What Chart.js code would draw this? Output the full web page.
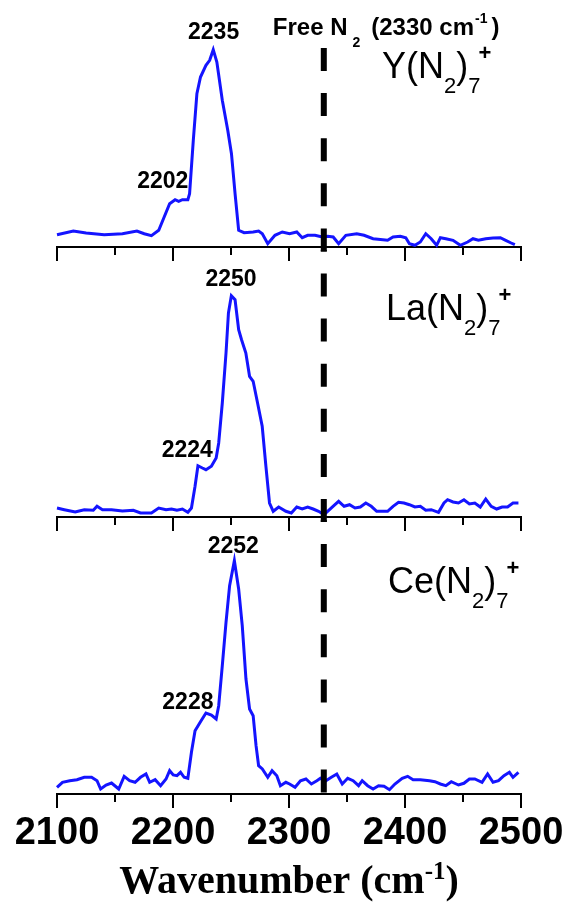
<!DOCTYPE html>
<html>
<head>
<meta charset="utf-8">
<script src="https://cdn.jsdelivr.net/npm/chart.js@4.4.1/dist/chart.umd.min.js"></script>
<style>
  body { margin: 0; background: #fff; }
  #wrap { position: relative; width: 569px; height: 907px; }
  canvas { position: absolute; left: 0; }
</style>
</head>
<body>
<div id="wrap">
  <canvas id="c1" width="569" height="270" style="top:0"></canvas>
  <canvas id="c2" width="569" height="290" style="top:250px"></canvas>
  <canvas id="c3" width="569" height="387" style="top:520px"></canvas>
</div>
<script>
// Data (wavenumber in cm-1, intensity in arbitrary units)
const yWn = [2100,2114.1,2125.1,2140.7,2156.4,2168.9,2175.2,2181.4,2187.7,2192.4,2197.1,2201.8,2204.9,2208.1,2212.8,2214.3,2217.5,2220.6,2223.7,2228.4,2231.6,2234.7,2237.8,2242.5,2247.2,2250.4,2253.5,2256.6,2261.3,2269.1,2273.8,2277.0,2281.7,2287.9,2294.2,2300.5,2306.7,2311.4,2316.1,2322.4,2328.7,2333.4,2338.1,2342.8,2349.0,2358.4,2364.7,2372.5,2385.0,2389.7,2396.0,2400.7,2403.8,2408.5,2413.2,2417.9,2422.6,2427.3,2430.5,2435.2,2441.4,2447.7,2454.0,2458.6,2463.3,2469.6,2475.9,2482.2,2486.8,2491.5,2494.7];
const yInt = [12.3,16.0,14.0,12.3,13.3,16.0,13.3,11.3,16.7,30.0,43.3,47.3,45.7,47.3,47.3,53.3,106.7,153.3,170.0,181.7,186.7,197.3,185.0,146.7,116.7,93.3,53.3,16.7,14.3,15.0,16.0,13.3,3.3,11.7,15.0,13.3,15.0,9.3,11.7,11.7,10.0,10.7,10.0,3.3,11.7,13.3,11.7,8.3,6.7,10.0,10.7,9.3,3.3,1.7,5.0,13.3,8.3,1.7,9.3,8.3,6.7,1.7,5.0,8.3,6.7,8.3,9.0,9.3,6.7,4.0,2.3];

const laWn = [2100,2106.3,2115.7,2123.5,2131.3,2134.5,2139.2,2147.0,2156.4,2165.8,2172.0,2181.4,2187.7,2194.0,2198.7,2203.4,2208.1,2212.8,2215.9,2219.0,2221.5,2225.3,2228.4,2233.1,2237.2,2239.4,2242.5,2245.7,2247.8,2250.3,2253.5,2256.6,2259.1,2262.8,2266.0,2269.1,2272.9,2276.9,2280.1,2283.2,2286.4,2291.1,2297.3,2302.0,2306.7,2311.4,2316.1,2320.8,2325.5,2330.2,2334.9,2339.6,2342.8,2347.5,2352.2,2356.9,2361.5,2366.2,2370.9,2375.6,2385.0,2389.7,2394.4,2399.1,2403.8,2408.5,2413.2,2417.9,2422.6,2428.9,2433.6,2436.7,2441.4,2446.1,2450.8,2455.5,2460.2,2464.9,2469.6,2474.3,2479.0,2483.7,2488.4,2493.1,2497.8];
const laInt = [9.0,7.3,5.0,7.3,6.7,10.7,7.3,7.3,6.0,6.7,4.0,4.0,9.0,7.3,8.0,6.7,8.0,4.7,9.0,30.7,51.3,49.0,47.3,50.7,59.0,74.0,114.0,164.0,204.0,221.3,217.3,187.3,177.3,164.0,140.7,135.7,114.0,90.7,50.7,14.0,5.7,10.0,5.7,4.0,10.0,8.0,10.0,8.0,5.7,2.3,7.3,12.3,15.7,10.7,12.3,9.0,10.0,14.0,10.7,5.7,5.7,10.7,14.7,14.0,12.3,10.0,10.7,6.7,7.3,4.7,14.0,17.3,15.0,14.0,17.3,13.0,14.0,10.0,18.0,10.7,8.0,10.0,10.0,14.0,14.0];

const ceWn = [2100,2104.7,2111.0,2117.2,2123.5,2129.8,2134.5,2137.6,2142.3,2147.0,2153.2,2157.9,2162.6,2167.3,2172.0,2176.7,2179.9,2184.6,2189.3,2194.0,2197.1,2200.2,2203.4,2206.5,2209.6,2212.8,2215.9,2219.0,2223.7,2228.4,2233.1,2237.2,2239.4,2242.5,2245.7,2248.8,2252.9,2256.6,2259.7,2262.9,2266.0,2269.1,2271.6,2273.8,2277.0,2281.7,2285.4,2289.5,2292.6,2297.3,2300.5,2305.2,2309.9,2314.6,2319.3,2324.0,2327.1,2331.8,2336.5,2341.2,2345.9,2350.6,2355.3,2360.0,2363.1,2367.8,2372.5,2377.2,2381.9,2386.6,2391.3,2397.6,2402.3,2407.0,2413.2,2421.1,2425.8,2430.5,2435.2,2439.9,2446.1,2450.8,2455.5,2460.2,2466.4,2471.2,2475.9,2480.6,2485.3,2490.0,2493.1,2497.8];
const ceInt = [6.7,11.7,13.3,14.3,16.7,16.7,13.3,5.0,9.0,11.0,5.0,17.7,13.3,11.7,16.7,20.0,11.7,14.3,8.3,15.0,23.3,19.0,18.3,21.7,16.7,15.7,41.7,63.3,72.3,81.0,79.0,75.0,88.3,128.3,171.7,208.3,233.3,205.0,168.3,115.0,85.0,78.3,48.3,28.3,25.0,16.7,23.3,18.3,8.3,11.7,10.0,6.7,13.3,15.0,10.0,13.3,15.7,13.3,16.7,20.0,10.0,15.7,13.3,8.3,13.3,8.3,5.0,8.3,7.7,4.3,10.0,15.7,17.7,14.3,14.3,13.3,12.3,10.0,8.3,12.3,9.0,10.7,15.0,15.0,11.7,20.0,11.7,13.3,18.3,21.7,16.7,21.7];

// labelled bands (cm-1)
const yBands = [2235, 2202];
const laBands = [2250, 2224];
const ceBands = [2252, 2228];

const FREE_N2 = 2330;
const xTicks = [2100, 2150, 2200, 2250, 2300, 2350, 2400, 2450, 2500];

const SANS = '"Liberation Sans", Arial, sans-serif';
const SERIF = '"Liberation Serif", "Times New Roman", serif';
const BLUE = '#1414ff';
const PAD_TOP = 20;

// Layout of the three stacked panels (canvases overlap a little, they are transparent)
const panels = [
    { id: 'c1', top: 0, h: 270, axis: 247, xs: yWn, ys: yInt, bands: yBands, ion: 'Y', ionX: 382, ionY: 78,
      lab: [{ align: 'center', dx: 0, lift: 12 }, { align: 'right', dx: 13, lift: 12 }] },
    { id: 'c2', top: 250, h: 290, axis: 267, xs: laWn, ys: laInt, bands: laBands, ion: 'La', ionX: 386, ionY: 70,
      lab: [{ align: 'center', dx: 0, lift: 12 }, { align: 'right', dx: 12, lift: 10 }] },
    { id: 'c3', top: 520, h: 387, axis: 274, xs: ceWn, ys: ceInt, bands: ceBands, ion: 'Ce', ionX: 388, ionY: 73,
      lab: [{ align: 'center', dx: 0, lift: 13 }, { align: 'right', dx: 8, lift: 5 }], bottom: true }
];

const DASH_TOP = 48, DASH_BOTTOM = 802;

function richText(ctx, x, y, parts, align) {
    let w = 0;
    parts.forEach(p => { ctx.font = p.font; w += (p.gap || 0) + ctx.measureText(p.t).width; });
    let cx = align === 'center' ? x - w / 2 : align === 'right' ? x - w : x;
    ctx.textAlign = 'left';
    ctx.textBaseline = 'alphabetic';
    parts.forEach(p => {
        ctx.font = p.font;
        cx += p.gap || 0;
        ctx.fillText(p.t, cx, y + (p.dy || 0));
        cx += ctx.measureText(p.t).width;
    });
}

function valueAt(xs, ys, v) {
    for (let i = 1; i < xs.length; i++) {
        if (xs[i] >= v) {
            const t = (v - xs[i - 1]) / (xs[i] - xs[i - 1]);
            return ys[i - 1] + t * (ys[i] - ys[i - 1]);
        }
    }
    return ys[ys.length - 1];
}

function makeDecor(p) {
    return {
        id: 'decor',
        afterDraw(chart) {
            const { ctx, chartArea: ca, scales: { x, y } } = chart;
            ctx.save();
            ctx.fillStyle = '#000';
            ctx.strokeStyle = '#000';

            // tick marks
            ctx.lineWidth = 2;
            xTicks.forEach(v => {
                const px = Math.round(x.getPixelForValue(v));
                const len = v % 100 === 0 ? 14 : 8;
                ctx.beginPath();
                ctx.moveTo(px, ca.bottom);
                ctx.lineTo(px, ca.bottom + len);
                ctx.stroke();
            });

            // free N2 dashed marker, continuous across the panels
            const dx = x.getPixelForValue(FREE_N2);
            const y0 = Math.max(DASH_TOP - p.top, 0);
            const y1 = Math.min(DASH_BOTTOM - p.top, chart.height);
            if (y1 > y0) {
                ctx.setLineDash([23, 22.1]);
                ctx.lineDashOffset = p.top + y0 - DASH_TOP;
                ctx.lineWidth = 6;
                ctx.beginPath();
                ctx.moveTo(dx, y0);
                ctx.lineTo(dx, y1);
                ctx.stroke();
                ctx.setLineDash([]);
            }

            // band labels
            p.bands.forEach((b, i) => {
                const L = p.lab[i];
                const py = y.getPixelForValue(valueAt(p.xs, p.ys, b)) - L.lift;
                richText(ctx, x.getPixelForValue(b) + L.dx, py,
                    [{ t: String(b), font: `bold 23px ${SANS}` }], L.align);
            });

            // ion label, e.g. Y(N2)7+
            const big = `36px ${SANS}`, small = `22px ${SANS}`;
            richText(ctx, p.ionX, p.ionY, [
                { t: p.ion + '(N', font: big },
                { t: '2', font: small, dy: 15 },
                { t: ')', font: big },
                { t: '7', font: small, dy: 15 },
                { t: '+', font: `bold 22px ${SANS}`, dy: -18, gap: -2 }
            ], 'left');

            if (p.top === 0) {
                richText(ctx, dx - 51, 35, [
                    { t: 'Free N', font: `bold 24px ${SANS}` },
                    { t: '2', font: `bold 14px ${SANS}`, dy: 12, gap: 5 },
                    { t: '(2330 cm', font: `bold 24px ${SANS}`, gap: 11 },
                    { t: '-1', font: `bold 14px ${SANS}`, dy: -12, gap: 1 },
                    { t: ')', font: `bold 24px ${SANS}`, gap: 4 }
                ], 'left');
            }

            if (p.bottom) {
                richText(ctx, (ca.left + ca.right) / 2, ca.bottom + 99, [
                    { t: 'Wavenumber (cm', font: `bold 40px ${SERIF}` },
                    { t: '-1', font: `bold 25px ${SERIF}`, dy: -14 },
                    { t: ')', font: `bold 40px ${SERIF}` }
                ], 'center');
            }
            ctx.restore();
        }
    };
}

panels.forEach(p => {
    new Chart(document.getElementById(p.id), {
        type: 'line',
        data: {
            datasets: [{
                data: p.xs.map((v, i) => ({ x: v, y: p.ys[i] })),
                borderColor: BLUE,
                borderWidth: 3,
                pointRadius: 0,
                tension: 0,
                fill: false,
                clip: false
            }]
        },
        options: {
            responsive: false,
            animation: false,
            events: [],
            layout: { padding: { left: 57, right: 48, top: PAD_TOP, bottom: 0 } },
            plugins: { legend: { display: false }, tooltip: { enabled: false } },
            scales: {
                x: {
                    type: 'linear',
                    min: 2100,
                    max: 2500,
                    afterFit: s => {
                        s.height = p.h - p.axis;
                        // same plot width in every panel, labels fit in the layout padding
                        s.paddingLeft = 0;
                        s.paddingRight = 0;
                    },
                    grid: { display: true, drawOnChartArea: false, drawTicks: false },
                    border: { display: true, color: '#000', width: 2 },
                    ticks: {
                        display: !!p.bottom,
                        stepSize: 100,
                        autoSkip: false,
                        maxRotation: 0,
                        minRotation: 0,
                        padding: 17,
                        color: '#000',
                        font: { family: SANS, size: 38, weight: 'bold' },
                        callback: v => String(v)
                    }
                },
                // intensities are given in plot units, one unit per pixel above the baseline
                y: { display: false, min: 0, max: p.axis - PAD_TOP }
            }
        },
        plugins: [makeDecor(p)]
    });
});
</script>
</body>
</html>
